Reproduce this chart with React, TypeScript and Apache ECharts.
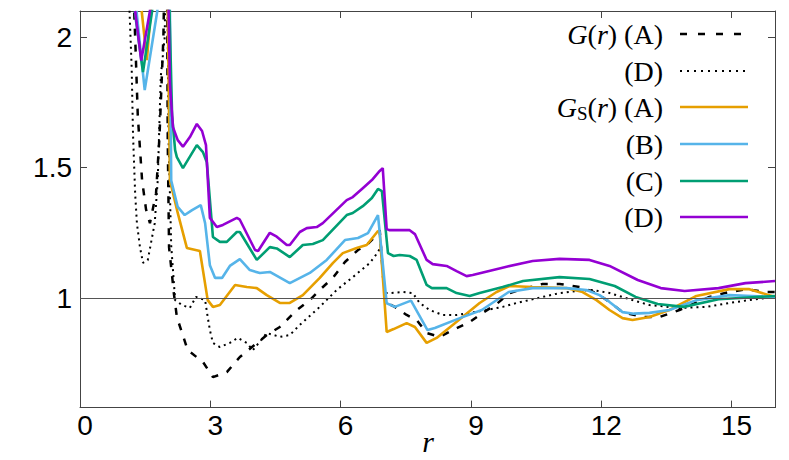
import React, { useEffect, useRef } from "react";
import * as echarts from "echarts";

const xTicks = [0, 3, 6, 9, 12, 15];
const yTicks = [1, 1.5, 2];

// G(r) (A) — dashed black
const gA: number[][] = [
  [1.18, 2.4], [1.27, 2.0], [1.33, 1.7], [1.43, 1.45], [1.52, 1.34], [1.61, 1.287], [1.75, 1.4], [1.83, 1.62],
  [1.92, 2.0], [1.96, 2.4], [2.0, 2.4], [2.02, 1.6], [2.05, 1.195], [2.13, 1.069], [2.16, 1.019], [2.23, 0.927],
  [2.48, 0.8], [2.83, 0.755], [3.06, 0.697], [3.38, 0.716], [3.68, 0.774], [4.3, 0.858], [4.6, 0.889],
  [4.99, 0.954], [5.29, 0.992], [5.52, 1.031], [5.82, 1.077], [6.1, 1.138], [6.4, 1.184], [6.6, 1.203],
  [6.83, 1.241], [6.9, 1.26], [7.02, 0.985], [7.25, 0.966], [7.52, 0.935], [7.75, 0.916], [7.98, 0.866],
  [8.28, 0.851], [8.58, 0.877], [8.97, 0.908], [9.27, 0.943], [9.59, 0.977], [9.89, 1.019], [10.12, 1.031],
  [10.65, 1.054], [11.04, 1.054], [11.5, 1.042], [11.89, 1.019], [12.19, 0.985], [12.49, 0.946], [12.95, 0.927],
  [13.34, 0.927], [13.8, 0.954], [14.49, 1.004], [14.95, 1.023], [15.34, 1.034], [15.8, 1.023], [16, 1.023],
];

// G(r) (D) — dotted black
const gD: number[][] = [
  [1.1, 2.4], [1.14, 2.1], [1.19, 1.88], [1.22, 1.63], [1.27, 1.4], [1.31, 1.287], [1.38, 1.195], [1.45, 1.135],
  [1.56, 1.145], [1.72, 1.287], [1.79, 1.452], [1.86, 1.85], [1.95, 2.0], [1.98, 2.4], [2.0, 2.4], [2.04, 1.6],
  [2.1, 1.2], [2.19, 0.992], [2.35, 0.973], [2.53, 0.962], [2.67, 1.004], [2.88, 0.992], [2.94, 0.927],
  [2.99, 0.877], [3.06, 0.828], [3.22, 0.812], [3.45, 0.828], [3.63, 0.847], [3.84, 0.828], [3.98, 0.8],
  [4.3, 0.866], [4.6, 0.851], [4.83, 0.858], [5.06, 0.897], [5.52, 0.966], [5.91, 1.031], [6.28, 1.08],
  [6.67, 1.134], [6.86, 1.176], [6.93, 1.2], [7.02, 1.019], [7.13, 1.019], [7.43, 1.023], [7.66, 1.019],
  [7.82, 0.981], [8.05, 0.954], [8.35, 0.935], [8.67, 0.935], [8.97, 0.943], [9.36, 0.954], [9.73, 0.966],
  [10.05, 0.981], [10.65, 1.004], [11.04, 1.019], [11.43, 1.027], [11.8, 1.031], [12.19, 1.019], [12.72, 0.992],
  [13.11, 0.973], [13.8, 0.962], [14.42, 0.966], [14.95, 0.981], [15.41, 0.992], [16, 1.004],
];

// G_S(r) (A) — orange
const gsA: number[][] = [
  [1.42, 2.1], [1.54, 1.912], [1.63, 2.1], [1.8, 2.6], [1.95, 2.6], [2.02, 2.1], [2.07, 1.452], [2.25, 1.326],
  [2.46, 1.192], [2.76, 1.18], [2.94, 0.992], [3.06, 0.966], [3.22, 0.973], [3.57, 1.05], [3.84, 1.042],
  [4.07, 1.038], [4.3, 1.011], [4.6, 0.981], [4.83, 0.981], [5.13, 1.011], [5.52, 1.077], [5.82, 1.134],
  [6.05, 1.172], [6.37, 1.192], [6.6, 1.203], [6.86, 1.257], [6.9, 1.25], [7.06, 0.87], [7.22, 0.881],
  [7.52, 0.904], [7.71, 0.889], [7.98, 0.828], [8.21, 0.847], [8.58, 0.897], [9.2, 0.981], [9.59, 1.023],
  [9.89, 1.046], [10.42, 1.042], [11.2, 1.038], [11.57, 1.023], [11.89, 0.992], [12.19, 0.954], [12.49, 0.923],
  [12.72, 0.916], [13.11, 0.927], [13.57, 0.954], [14.19, 1.008], [14.95, 1.034], [15.41, 1.034], [16, 1.004],
];

// G_S(r) (B) — light blue
const gsB: number[][] = [
  [1.3, 2.1], [1.49, 1.797], [1.78, 2.1], [1.9, 2.6], [2.0, 2.6], [2.07, 2.1], [2.1, 1.45], [2.25, 1.349],
  [2.41, 1.318], [2.58, 1.337], [2.78, 1.356], [2.88, 1.287], [2.99, 1.126], [3.11, 1.077], [3.27, 1.077],
  [3.45, 1.123], [3.68, 1.149], [3.91, 1.107], [4.14, 1.096], [4.37, 1.1], [4.83, 1.057], [5.29, 1.096],
  [5.68, 1.146], [6.1, 1.222], [6.4, 1.23], [6.63, 1.249], [6.86, 1.318], [7.06, 0.98], [7.25, 0.966],
  [7.62, 0.99], [8.0, 0.877], [8.17, 0.885], [8.7, 0.92], [9.25, 0.954], [9.87, 1.023], [10.42, 1.038],
  [11.2, 1.038], [11.66, 1.031], [11.96, 1.011], [12.19, 0.985], [12.49, 0.946], [12.75, 0.94], [13.11, 0.943],
  [13.57, 0.954], [14.19, 0.992], [14.95, 1.011], [16, 1.004],
];

// G_S(r) (C) — green
const gsC: number[][] = [
  [1.26, 2.1], [1.45, 1.866], [1.66, 2.1], [1.8, 2.6], [1.98, 2.6], [2.06, 2.1], [2.12, 1.7], [2.19, 1.567],
  [2.23, 1.54], [2.37, 1.498], [2.69, 1.586], [2.83, 1.559], [2.92, 1.52], [3.06, 1.234], [3.22, 1.215],
  [3.38, 1.215], [3.61, 1.253], [3.68, 1.253], [4.07, 1.146], [4.37, 1.195], [4.53, 1.19], [4.83, 1.157],
  [5.13, 1.203], [5.36, 1.207], [5.59, 1.222], [6.14, 1.318], [6.28, 1.326], [6.51, 1.352], [6.72, 1.383],
  [6.86, 1.418], [6.95, 1.41], [7.09, 1.172], [7.22, 1.161], [7.36, 1.165], [7.59, 1.161], [7.75, 1.146],
  [7.98, 1.05], [8.1, 1.038], [8.44, 1.038], [8.67, 1.019], [8.97, 1.008], [9.2, 1.019], [9.73, 1.042],
  [10.2, 1.065], [11.04, 1.08], [11.73, 1.073], [12.31, 1.046], [12.79, 1.004], [13.3, 0.977], [13.9, 0.966],
  [14.7, 0.995], [15.2, 1.0], [16, 1.008],
];

// G_S(r) (D) — purple
const gsD: number[][] = [
  [1.27, 2.1], [1.41, 1.91], [1.61, 2.1], [1.8, 2.6], [1.98, 2.6], [2.04, 2.1], [2.07, 1.82], [2.14, 1.655],
  [2.25, 1.605], [2.37, 1.58], [2.53, 1.617], [2.69, 1.667], [2.81, 1.64], [2.9, 1.586], [2.99, 1.307],
  [3.15, 1.272], [3.29, 1.28], [3.61, 1.307], [3.68, 1.3], [4.03, 1.184], [4.1, 1.18], [4.37, 1.25],
  [4.53, 1.235], [4.76, 1.203], [4.83, 1.203], [5.06, 1.253], [5.22, 1.268], [5.45, 1.272], [5.59, 1.287],
  [6.14, 1.375], [6.28, 1.387], [6.51, 1.421], [6.72, 1.452], [6.9, 1.487], [6.97, 1.498], [7.06, 1.264],
  [7.13, 1.26], [7.59, 1.26], [7.71, 1.245], [7.98, 1.146], [8.12, 1.13], [8.44, 1.123], [8.67, 1.103],
  [8.9, 1.084], [9.04, 1.088], [9.82, 1.12], [10.42, 1.142], [11.04, 1.15], [11.73, 1.146], [12.19, 1.123],
  [12.84, 1.069], [13.37, 1.038], [13.92, 1.027], [14.7, 1.038], [15.32, 1.057], [16, 1.065],
];

const COLORS = { A: "#E69F00", B: "#56B4E9", C: "#009E73", D: "#9400D3" };
const SANS = "'Liberation Sans Narrow', 'Liberation Sans', Arial, sans-serif";
const SERIF = "'Liberation Serif', 'DejaVu Serif', serif";
const FRAME = "#444";

export default function App() {
  const ref = useRef<HTMLDivElement>(null);
  useEffect(() => {
    const chart = echarts.init(ref.current!, null, { renderer: "svg" });
    const tickCommon = { show: true, inside: true, length: 7, lineStyle: { color: FRAME, width: 1 } };
    const lineSeries = (name: string, data: number[][], color: string, width: number, type: any, extra: any = {}) => ({
      name,
      type: "line",
      data,
      showSymbol: false,
      smooth: false,
      clip: true,
      lineStyle: { color, width, type },
      itemStyle: { color },
      silent: true,
      ...extra,
    });
    const legendRows = [
      { y: 34, text: "{i|G}({i|r}) (A)", color: "#000", dash: [7, 11], w: 2.5 },
      { y: 71, text: "(D)", color: "#000", dash: [2, 5], w: 2 },
      { y: 107, text: "{i|G}{s|S}({i|r}) (A)", color: COLORS.A, dash: null, w: 2.6 },
      { y: 144, text: "(B)", color: COLORS.B, dash: null, w: 2.6 },
      { y: 181, text: "(C)", color: COLORS.C, dash: null, w: 2.6 },
      { y: 217, text: "(D)", color: COLORS.D, dash: null, w: 2.6 },
    ];
    const graphic: any[] = [];
    legendRows.forEach((r) => {
      graphic.push({
        type: "text",
        x: 663,
        y: r.y,
        style: {
          text: r.text,
          align: "right",
          verticalAlign: "middle",
          fontSize: 28,
          fontFamily: SERIF,
          fill: "#000",
          rich: {
            i: { fontStyle: "italic", fontSize: 28, fontFamily: SERIF, fill: "#000" },
            s: { fontSize: 19, fontFamily: SERIF, fill: "#000", padding: [12, 0, 0, 0] },
          },
        },
      });
      graphic.push({
        type: "line",
        shape: { x1: 680, y1: r.y, x2: 748, y2: r.y },
        style: { stroke: r.color, lineWidth: r.w, lineDash: r.dash || undefined },
      });
    });
    graphic.push({
      type: "text",
      x: 428,
      y: 441,
      style: {
        text: "r",
        align: "center",
        verticalAlign: "middle",
        fontSize: 30,
        fontStyle: "italic",
        fontFamily: SERIF,
        fill: "#000",
      },
    });

    chart.setOption({
      animation: false,
      backgroundColor: "#fff",
      grid: { left: 80, top: 11, width: 695, height: 396.6, containLabel: false, outerBoundsMode: "none" },
      xAxis: [
        {
          type: "value",
          position: "bottom",
          min: 0,
          max: 16,
          interval: 3,
          axisLine: { show: true, onZero: false, lineStyle: { color: FRAME, width: 1 } },
          axisTick: { ...tickCommon, customValues: xTicks },
          axisLabel: { customValues: xTicks, fontSize: 28, fontFamily: SANS, color: "#000", margin: 4, padding: [0, 0, 0, 10] },
          splitLine: { show: false },
        },
        {
          type: "value",
          position: "top",
          min: 0,
          max: 16,
          interval: 3,
          axisLine: { show: true, onZero: false, lineStyle: { color: FRAME, width: 1 } },
          axisTick: { ...tickCommon, customValues: xTicks },
          axisLabel: { show: false },
          splitLine: { show: false },
        },
      ],
      yAxis: [
        {
          type: "value",
          position: "left",
          min: 0.58,
          max: 2.1,
          axisLine: { show: true, onZero: false, lineStyle: { color: FRAME, width: 1 } },
          axisTick: { ...tickCommon, customValues: yTicks },
          axisLabel: { customValues: yTicks, fontSize: 28, fontFamily: SANS, color: "#000", margin: 8 },
          splitLine: { show: false },
        },
        {
          type: "value",
          position: "right",
          min: 0.58,
          max: 2.1,
          axisLine: { show: true, onZero: false, lineStyle: { color: FRAME, width: 1 } },
          axisTick: { ...tickCommon, customValues: yTicks },
          axisLabel: { show: false },
          splitLine: { show: false },
        },
      ],
      series: [
        lineSeries("G(r) (A)", gA, "#000", 2.5, [7, 9], {
          markLine: {
            silent: true,
            symbol: ["none", "none"],
            label: { show: false },
            lineStyle: { color: "#555", width: 1.2, type: "solid" },
            data: [{ yAxis: 1 }],
          },
        }),
        lineSeries("G(r) (D)", gD, "#000", 2, [2, 4]),
        lineSeries("G_S(r) (A)", gsA, COLORS.A, 2.6, "solid"),
        lineSeries("G_S(r) (B)", gsB, COLORS.B, 2.6, "solid"),
        lineSeries("G_S(r) (C)", gsC, COLORS.C, 2.6, "solid"),
        lineSeries("G_S(r) (D)", gsD, COLORS.D, 2.6, "solid"),
      ],
      graphic,
    });
    return () => chart.dispose();
  }, []);
  return <div ref={ref} style={{ position: "fixed", left: 0, top: 0, width: 789, height: 460, background: "#fff" }} />;
}
